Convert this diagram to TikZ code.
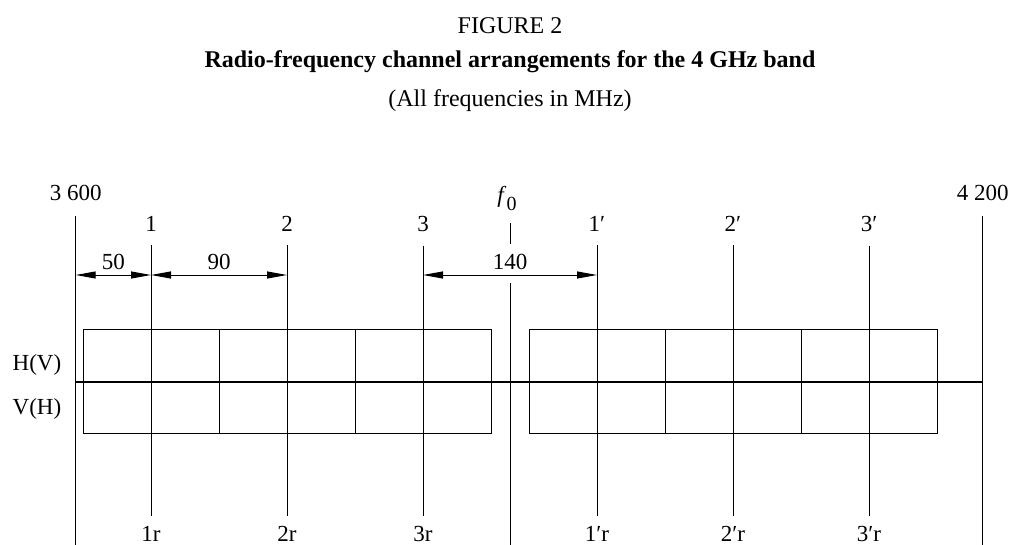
\documentclass[tikz,border=0pt]{standalone}
\usepackage{fontspec}
\setmainfont{Liberation Serif}
\usetikzlibrary{arrows.meta}

\tikzset{
  lab/.style={anchor=base, inner sep=0pt, font=\fontsize{11.5}{13}\selectfont},
  ttl/.style={anchor=base, inner sep=0pt, font=\fontsize{12}{14}\selectfont},
  chan/.style={draw, line width=0.5pt, minimum width=68pt, minimum height=52pt, inner sep=0pt},
  fline/.style={line width=0.5pt},
  dim/.style={line width=0.5pt, <->, >={Triangle[length=10pt,width=3.5pt]}},
  dimlab/.style={midway, above, inner sep=0pt, yshift=2.5pt, font=\fontsize{11.5}{13}\selectfont}
}

\begin{document}
\begin{tikzpicture}[x=0.5pt, y=-0.5pt]
  \useasboundingbox (0,0) rectangle (1010,545);

  % headings
  \node[ttl] (fig)   at (510,34)  {FIGURE 2};
  \node[ttl, font=\fontsize{12}{14}\selectfont\bfseries] (title) at (510,68)
        {Radio-frequency channel arrangements for the 4 GHz band};
  \node[ttl] (sub)   at (510,107) {(All frequencies in MHz)};

  % band edges and centre frequency
  \node[lab] (lo) at (75.7,200.5)  {3 600};
  \node[lab] (hi) at (982.7,200.5) {4 200};
  \node[lab] (f0) at (507,203)     {\textit{f}\raisebox{-4pt}{\fontsize{10}{12}\selectfont 0}};
  \coordinate (lo-end) at (75.7,545);
  \coordinate (hi-end) at (982.7,545);
  \coordinate (f0a) at (510,223);
  \coordinate (f0b) at (510,244);
  \coordinate (f0c) at (510,283);
  \coordinate (f0d) at (510,545);
  \draw[fline, shorten <=7.2pt] (lo) -- (lo-end);
  \draw[fline, shorten <=7.2pt] (hi) -- (hi-end);
  \draw[fline] (f0a) -- (f0b);
  \draw[fline] (f0c) -- (f0d);

  % go channels
  \node[lab] (c1) at (151,231.7) {1};
  \node[lab] (c2) at (287,231.7) {2};
  \node[lab] (c3) at (423,231.7) {3};
  \node[lab] (c4) at (597,231.7) {1′};
  \node[lab] (c5) at (733,231.7) {2′};
  \node[lab] (c6) at (869,231.7) {3′};

  % return channels
  \node[lab] (r1) at (151,541) {1r};
  \node[lab] (r2) at (287,541) {2r};
  \node[lab] (r3) at (423,541) {3r};
  \node[lab] (r4) at (597,541) {1′r};
  \node[lab] (r5) at (733,541) {2′r};
  \node[lab] (r6) at (869,541) {3′r};

  % channel blocks
  \node[chan] (k1) at (151.5,381) {};
  \node[chan] (k2) at (287.5,381) {};
  \node[chan] (k3) at (423.5,381) {};
  \node[chan] (k4) at (597,381)   {};
  \node[chan] (k5) at (733,381)   {};
  \node[chan] (k6) at (869,381)   {};

  \draw[fline, shorten <=6.6pt, shorten >=4.5pt] (c1) -- (r1);
  \draw[fline, shorten <=6.6pt, shorten >=4.5pt] (c2) -- (r2);
  \draw[fline, shorten <=6.6pt, shorten >=4.5pt] (c3) -- (r3);
  \draw[fline, shorten <=6.6pt, shorten >=4.5pt] (c4) -- (r4);
  \draw[fline, shorten <=6.6pt, shorten >=4.5pt] (c5) -- (r5);
  \draw[fline, shorten <=6.6pt, shorten >=4.5pt] (c6) -- (r6);

  % polarisations
  \node[lab] (hv) at (37,370) {H(V)};
  \node[lab] (vh) at (37,414) {V(H)};
  \coordinate (mid-lo) at (75.7,382);
  \coordinate (mid-hi) at (982.7,382);
  \draw[line width=1pt] (mid-lo) -- (mid-hi);

  % spacings
  \coordinate (d0) at (75.7,275);
  \coordinate (d1) at (151,275);
  \coordinate (d2) at (287,275);
  \coordinate (d3) at (423,275);
  \coordinate (d4) at (597,275);
  \path (d0) edge[dim] node[dimlab] {50}  (d1);
  \path (d1) edge[dim] node[dimlab] {90}  (d2);
  \path (d3) edge[dim] node[dimlab] {140} (d4);
\end{tikzpicture}
\end{document}
